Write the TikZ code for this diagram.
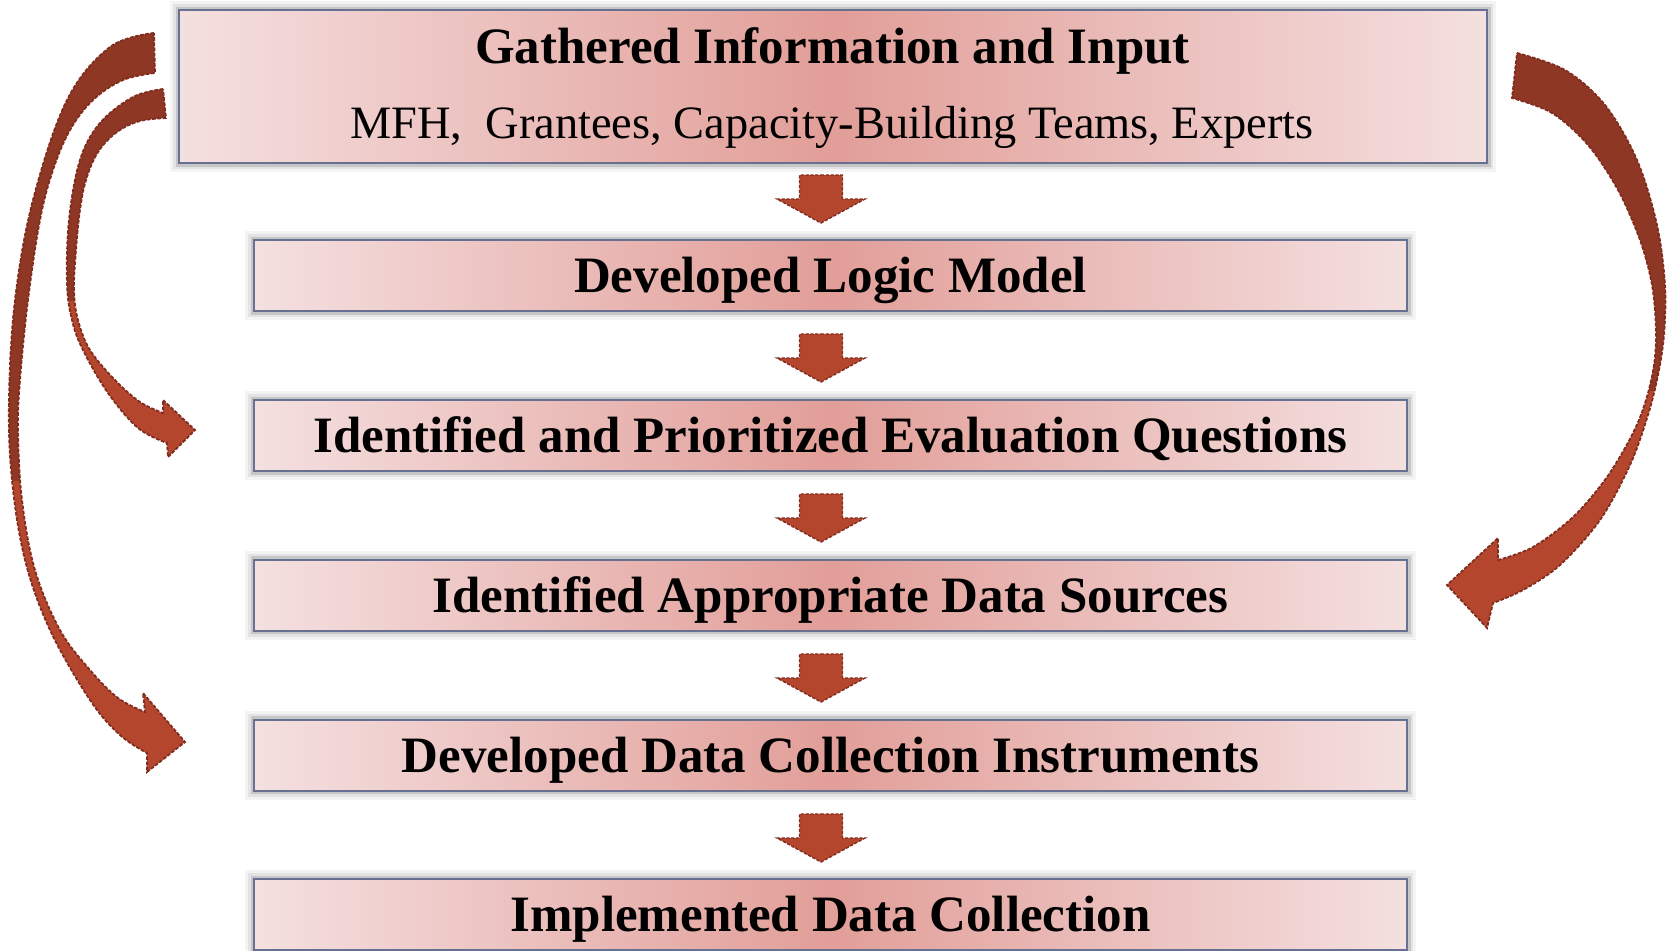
\documentclass[tikz,border=0pt]{standalone}
\usepackage{fontspec}
\setmainfont{Liberation Serif}
\definecolor{edgepink}{RGB}{244,224,224}
\definecolor{midpink}{RGB}{226,158,152}
\definecolor{boxline}{RGB}{104,112,146}
\definecolor{arrowlight}{RGB}{180,70,46}
\definecolor{arrowdark}{RGB}{142,55,36}
\definecolor{arrowedge}{RGB}{128,44,30}
\newcommand\pathOL{(154,33) -- plot[smooth, tension=0.6] coordinates {(154,33) (110,47) (67,100) (33,200) (15,300) (9,400) (12,480) (25,560) (50,630) (90,700) (120,735) (147,753)} -- (147,772) -- (185,742) -- (143,693) -- plot[smooth, tension=0.6] coordinates {(145,712) (118,698) (90,670) (60,630) (35,570) (22,500) (18,430) (20,380) (28,300) (40,220) (53,170) (70,130) (93,100) (123,80) (155,73)} -- cycle}
\newcommand\pathIL{(163,89) -- plot[smooth, tension=0.6] coordinates {(163,89) (133,97) (100,123) (80,160) (69,220) (67,283) (72,320) (83,350) (108,393) (138,428) (167,443)} -- (168,457) -- (195,430) -- (163,400) -- plot[smooth, tension=0.6] coordinates {(163,413) (140,402) (115,380) (90,350) (78,320) (74,290) (76,250) (80,210) (86,180) (98,152) (117,132) (140,121) (166,118)} -- cycle}
\newcommand\pathRR{(1517,53) -- plot[smooth, tension=0.55] coordinates {(1517,53) (1565,70) (1605,105) (1637,160) (1657,225) (1665,285) (1664,335) (1658,375) (1648,415) (1630,465) (1600,520) (1560,565) (1523,590) (1493,603)} -- (1487,628) -- (1447,585) -- (1498,538) -- plot[smooth, tension=0.55] coordinates {(1498,560) (1533,547) (1573,517) (1607,477) (1633,433) (1646,400) (1654,365) (1656,330) (1652,285) (1640,240) (1618,190) (1588,145) (1552,113) (1512,98)} -- cycle}
\begin{document}
\begin{tikzpicture}[x=0.5pt,y=-0.5pt,
  glow/.style={
    preaction={draw=black, line width=9pt, opacity=0.045},
    preaction={draw=black, line width=6pt, opacity=0.07},
    preaction={draw=black, line width=3.5pt, opacity=0.13}},
  stepbox/.style={glow, draw=boxline, line width=1pt,
    left color=edgepink, right color=edgepink, middle color=midpink,
    minimum width=576.5pt, minimum height=35.5pt, inner sep=0pt,
    font=\fontsize{25.5}{30}\selectfont\bfseries, text height=17pt, text depth=0pt},
  topbox/.style={stepbox, minimum width=654pt, minimum height=76.5pt},
  titletext/.style={anchor=base, font=\fontsize{25.5}{30}\selectfont\bfseries},
  subtext/.style={anchor=base, font=\fontsize{23.2}{28}\selectfont},
  blockarrow/.style={fill=arrowlight, draw=arrowedge, line width=0.7pt, dash pattern=on 1.6pt off 0.8pt},
  ribbon/.style={draw=arrowedge, line width=0.9pt, dash pattern=on 1.8pt off 0.8pt}
]
\useasboundingbox (0,0) rectangle (1671,950);

% boxes
\node[topbox] (top) at (833,86.5) {};
\node[titletext] (t1) at (832.5,63) {Gathered Information and Input};
\node[subtext] (t2) at (832,138) {MFH,\ \ Grantees, Capacity-Building Teams, Experts};
\node[stepbox] (b2) at (830.5,275.5) {Developed Logic Model};
\node[stepbox] (b3) at (830.5,435.5) {Identified and Prioritized Evaluation Questions};
\node[stepbox] (b4) at (830.5,595) {Identified Appropriate Data Sources};
\node[stepbox] (b5) at (830.5,755) {Developed Data Collection Instruments};
\node[stepbox] (b6) at (830.5,914.5) {Implemented Data Collection};

% straight block arrows
\foreach \n/\yy in {d1/175, d2/334, d3/494, d4/654, d5/814}{
  \coordinate (\n) at (821,\yy);
  \draw[blockarrow] (\n) -- ++(21.5,0) -- ++(0,24) -- ++(22.5,0) -- ++(-44,24) -- ++(-44,-24) -- ++(22.5,0) -- ++(0,-24) -- cycle;
}

% curved ribbon arrows
\fill[arrowlight] \pathOL;
\begin{scope}\clip (0,0) rectangle (1671,480); \fill[arrowdark] \pathOL; \end{scope}
\draw[ribbon] \pathOL;

\fill[arrowlight] \pathIL;
\begin{scope}\clip (0,0) rectangle (1671,300); \fill[arrowdark] \pathIL; \end{scope}
\draw[ribbon] \pathIL;

\fill[arrowlight] \pathRR;
\begin{scope}\clip (0,0) rectangle (1671,390); \fill[arrowdark] \pathRR; \end{scope}
\draw[ribbon] \pathRR;
\end{tikzpicture}
\end{document}
